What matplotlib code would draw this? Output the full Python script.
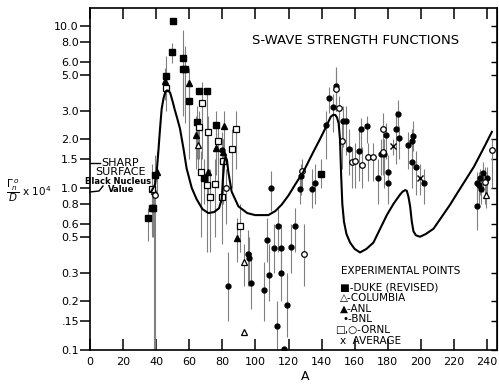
import matplotlib
matplotlib.use('Agg')
import matplotlib.pyplot as plt
from matplotlib.ticker import FixedLocator, FixedFormatter, NullLocator

## Theory curve (mass number A, strength x 1e4)
curve_A = [37, 39.3, 40.3, 41.3, 42.3, 43.3, 44.5, 45.5, 46.4, 47.5, 48.5, 50, 51,
           52.8, 54.4, 56.5, 58.4, 61.5, 64.5, 68, 71.5, 75, 78, 79.6, 80.5, 81.2,
           82, 82.8, 83.6, 85.6, 89.7, 95, 99.8, 107.8, 112, 115.9, 120, 124, 129,
           135, 139, 143.1, 145.5, 147.1, 148.3, 149.3, 150.3, 151.1, 151.8, 152.5,
           153.5, 155, 157.2, 160, 163.2, 167, 171.3, 175, 179.4, 183.5, 187.4,
           189, 190.5, 191.5, 192.5, 193.5, 194.5, 195.5, 197, 199.5, 203, 207.6,
           212, 217.7, 222, 227.7, 232, 235.8, 239, 242.9]
curve_S = [0.95, 1.05, 1.26, 1.67, 2.3, 3.07, 3.6, 3.9, 4.0, 3.98, 3.85, 3.4, 3.1,
           2.67, 2.32, 1.75, 1.32, 1.0, 0.85, 0.74, 0.70, 0.71, 0.75, 0.85, 1.2, 1.45,
           1.56, 1.48, 1.26, 0.95, 0.77, 0.70, 0.68, 0.68, 0.72, 0.79, 0.9, 1.05,
           1.26, 1.67, 2.0, 2.43, 2.75, 2.83, 2.82, 2.72, 2.5, 2.0, 1.2, 0.8,
           0.62, 0.52, 0.46, 0.42, 0.40, 0.42, 0.46, 0.55, 0.68, 0.8, 0.91,
           0.95, 0.97, 0.96, 0.88, 0.77, 0.62, 0.54, 0.51, 0.50, 0.52, 0.56,
           0.65, 0.79, 0.93, 1.15, 1.35, 1.60, 1.85, 2.22]

## Experimental points: (A, value, bottom of error bar, top of error bar)
duke = [(35.3, 0.65, 0.47, 0.75), (37.3, 0.75, 0.55, 0.95), (38.3, 0.75, 0.5, 0.9),
        (39.3, 1.2, 0.9, 1.6), (46.0, 4.9, 3.7, 6.5), (49.4, 6.9, 5.9, 7.8),
        (50.4, 10.8, 10.8, 10.8), (56.0, 6.3, 2.8, 9.5), (56.0, 5.4, 3.0, 7.0),
        (57.2, 5.4, 2.5, 7.5), (59.7, 3.45, 2.0, 4.5), (64.5, 2.55, 1.5, 3.2),
        (66.0, 3.94, 3.94, 3.94), (70.9, 3.94, 1.2, 3.94), (68.9, 1.15, 0.8, 1.5),
        (76.2, 2.46, 1.5, 3.0), (139.5, 1.22, 1.0, 1.5)]

anl = [(40.3, 1.26, 0.9, 1.7), (45.5, 4.57, 3.5, 5.5), (60.0, 4.47, 1.5, 5.5),
       (63.9, 2.11, 1.3, 2.8), (71.5, 1.26, 0.9, 1.6), (76.2, 1.77, 1.2, 2.2),
       (80.2, 1.67, 1.2, 2.0), (81.0, 2.41, 1.5, 3.0), (89.0, 0.49, 0.35, 0.65)]

columbia = [(38.7, 0.96, 0.1, 1.2), (65.5, 1.84, 1.2, 2.4), (93.1, 0.35, 0.25, 0.45),
            (93.1, 0.13, 0.13, 0.13), (239.4, 0.90, 0.75, 1.1)]

bnl = [(79.6, 1.71, 1.2, 2.2), (83.2, 0.25, 0.15, 0.4), (95.3, 0.39, 0.25, 0.55),
       (96.3, 0.37, 0.25, 0.5), (97.3, 0.26, 0.18, 0.4), (105.2, 0.235, 0.15, 0.35),
       (107.2, 0.48, 0.35, 0.65), (108.2, 0.29, 0.2, 0.45), (109.4, 1.0, 0.72, 1.27),
       (111.4, 0.425, 0.3, 0.6), (113.1, 0.14, 0.1, 0.2), (113.5, 0.585, 0.4, 0.75),
       (115.3, 0.425, 0.28, 0.6), (115.5, 0.30, 0.2, 0.4), (117.3, 0.101, 0.1, 0.101),
       (119.1, 0.19, 0.12, 0.3), (121.7, 0.43, 0.3, 0.6), (124.0, 0.585, 0.4, 0.75),
       (127.0, 0.98, 0.8, 1.2), (127.6, 1.18, 0.9, 1.4), (134.0, 0.98, 0.75, 1.3),
       (136.2, 1.08, 0.8, 1.4), (142.5, 2.43, 1.5, 3.0), (144.7, 3.59, 2.9, 4.2),
       (146.7, 3.17, 2.2, 3.8), (148.7, 4.27, 3.0, 5.6), (152.8, 2.59, 1.8, 3.2),
       (154.8, 2.59, 1.6, 3.2), (156.8, 1.73, 1.2, 2.3), (162.8, 1.70, 1.1, 2.3),
       (163.7, 2.3, 1.7, 2.7), (167.3, 2.41, 1.9, 2.8), (174.0, 1.16, 0.8, 1.5),
       (175.9, 1.63, 1.2, 2.0), (177.9, 1.63, 1.0, 2.0), (179.0, 2.11, 1.5, 2.5),
       (180.4, 1.26, 0.9, 1.6), (180.2, 1.07, 0.8, 1.3), (185.2, 2.3, 1.4, 3.0),
       (186.4, 2.86, 2.2, 3.5), (187.0, 2.04, 1.5, 2.4), (192.5, 1.84, 1.3, 2.2),
       (194.9, 1.94, 1.3, 2.3), (195.5, 2.1, 1.7, 2.6), (194.9, 1.45, 1.0, 1.8),
       (197.1, 1.34, 0.9, 1.7), (202.1, 1.07, 0.8, 1.3), (233.8, 0.77, 0.55, 0.95),
       (234.2, 1.07, 0.85, 1.25), (235.4, 1.04, 0.8, 1.25), (236.4, 0.99, 0.8, 1.2),
       (237.4, 1.23, 0.95, 1.45), (240.2, 1.15, 0.9, 1.35), (235.8, 1.15, 0.9, 1.3)]

ornl_sq = [(37.3, 0.98, 0.5, 1.4), (46.0, 4.11, 3.0, 5.0), (65.9, 2.38, 1.5, 3.0),
           (67.9, 3.33, 1.5, 4.5), (67.1, 1.25, 0.5, 1.7), (70.7, 1.05, 0.4, 1.5),
           (71.5, 2.22, 1.2, 2.8), (72.4, 0.88, 0.4, 1.3), (75.6, 1.06, 0.5, 1.5),
           (77.6, 1.94, 1.0, 2.5), (79.6, 0.88, 0.45, 1.2), (80.2, 1.47, 0.8, 2.0),
           (85.6, 1.75, 1.0, 2.3), (88.1, 2.32, 1.3, 3.0), (90.7, 0.585, 0.4, 0.8)]

ornl_circ = [(39.3, 0.91, 0.1, 1.2), (82.0, 1.0, 0.6, 1.3), (128.0, 1.27, 1.0, 1.5),
             (129.6, 0.39, 0.25, 0.6), (148.7, 4.1, 3.0, 5.5), (150.4, 3.1, 2.0, 3.7),
             (152.4, 1.94, 1.3, 2.6), (158.2, 1.44, 1.0, 1.8), (160.4, 1.47, 1.0, 1.9),
             (164.4, 1.39, 1.0, 1.8), (168.3, 1.55, 1.1, 1.9), (171.3, 1.55, 1.1, 1.9),
             (177.3, 2.3, 1.3, 2.9), (177.0, 1.66, 1.2, 2.0), (238.8, 1.09, 0.8, 1.35),
             (242.9, 1.71, 1.0, 2.0)]

average = [(183.0, 1.82, 1.6, 2.0), (199.3, 1.16, 0.9, 1.4)]

xtick_vals = [0, 20, 40, 60, 80, 100, 120, 140, 160, 180, 200, 220, 240]
ytick_vals = [0.1, 0.15, 0.2, 0.3, 0.5, 0.6, 0.8, 1.0, 1.5, 2.0, 3.0, 5.0, 6.0, 8.0, 10.0]
ytick_labels = ['0.1', '.15', '0.2', '0.3', '0.5', '0.6', '0.8', '1.0', '1.5',
                '2.0', '3.0', '5.0', '6.0', '8.0', '10.0']

legend_lines = ['EXPERIMENTAL POINTS', '\u25a0-DUKE (REVISED)', '\u25b3-COLUMBIA',
                '\u25b2-ANL', '\u2022-BNL', '\u25a1,\u25cb-ORNL', 'x  AVERAGE']


def draw_points(ax, pts, **kw):
    # error bars first, marker on top
    A = [p[0] for p in pts]
    v = [p[1] for p in pts]
    lo = [p[2] for p in pts]
    hi = [p[3] for p in pts]
    ax.vlines(A, lo, hi, color='0.5', lw=0.8, zorder=2)
    ax.plot(A, v, ls='none', zorder=3, **kw)


# pixel -> figure fraction helpers (figure is 499 x 384 px)
def fx(px):
    return px / 499.0

def fy(py):
    return 1.0 - py / 384.0


if __name__ == '__main__':
    fig = plt.figure(figsize=(4.99, 3.84), dpi=100)
    ax = fig.add_axes([fx(90), fy(350), fx(497) - fx(90), fy(8) - fy(350)])

    ax.set_yscale('log')
    ax.set_xlim(0, 246)
    ax.set_ylim(0.1, 12.9)

    ax.plot(curve_A, curve_S, color='black', lw=1.5, zorder=4)

    draw_points(ax, duke, marker='s', ms=5, mfc='black', mec='black')
    draw_points(ax, anl, marker='^', ms=5, mfc='black', mec='black')
    draw_points(ax, columbia, marker='^', ms=5, mfc='white', mec='black', mew=0.9)
    draw_points(ax, bnl, marker='o', ms=3.5, mfc='black', mec='black')
    draw_points(ax, ornl_sq, marker='s', ms=5, mfc='white', mec='black', mew=0.9)
    draw_points(ax, ornl_circ, marker='o', ms=4, mfc='white', mec='black', mew=0.9)
    draw_points(ax, average, marker='x', ms=4, color='black', mew=1.0)

    # ticks
    ax.xaxis.set_major_locator(FixedLocator(xtick_vals))
    ax.yaxis.set_major_locator(FixedLocator(ytick_vals))
    ax.yaxis.set_major_formatter(FixedFormatter(ytick_labels))
    ax.yaxis.set_minor_locator(NullLocator())
    ax.tick_params(axis='x', direction='in', top=True, length=8, width=1.1,
                   labelsize=8, pad=5)
    ax.tick_params(axis='y', direction='out', length=7, width=1.1, labelsize=8, pad=1)
    for s in ax.spines.values():
        s.set_linewidth(1.2)

    # right side ticks point inward
    sec = ax.secondary_yaxis('right')
    sec.yaxis.set_major_locator(FixedLocator(ytick_vals))
    sec.yaxis.set_minor_locator(NullLocator())
    sec.tick_params(direction='in', length=4, width=1.0, labelright=False)

    # title inside the plot
    fig.text(fx(356), fy(40), 'S-WAVE STRENGTH FUNCTIONS', ha='center', va='center',
             fontsize=9.5)

    # axis labels
    fig.text(fx(305), fy(377), 'A', ha='center', va='center', fontsize=9)
    fig.text(fx(6), fy(191), r'$\dfrac{\Gamma_n^{\,o}}{D}$ x 10$^4$', ha='left',
             va='center', fontsize=7.5)

    # sharp surface / black nucleus note
    fig.text(fx(120), fy(163), 'SHARP', ha='center', va='center', fontsize=8)
    fig.text(fx(120), fy(172), 'SURFACE', ha='center', va='center', fontsize=8)
    fig.text(fx(118), fy(181), 'Black Nucleus', ha='center', va='center',
             fontsize=6, fontweight='bold')
    fig.text(fx(121), fy(189), 'Value', ha='center', va='center', fontsize=6,
             fontweight='bold')
    fig.add_artist(plt.Line2D([fx(90), fx(100)], [fy(163), fy(163)], color='black', lw=1))
    fig.add_artist(plt.Line2D([fx(90), fx(99), fx(103)], [fy(192), fy(191), fy(186)],
                              color='black', lw=1))

    # experimental points key
    key_y = [271, 287, 298, 309, 319, 330, 341]
    key_x = [341, 340, 340, 340, 342, 335, 340]
    for txt, px, py in zip(legend_lines, key_x, key_y):
        fig.text(fx(px), fy(py), txt, ha='left', va='center', fontsize=7.5)

    fig.savefig('out.png', dpi=100)
